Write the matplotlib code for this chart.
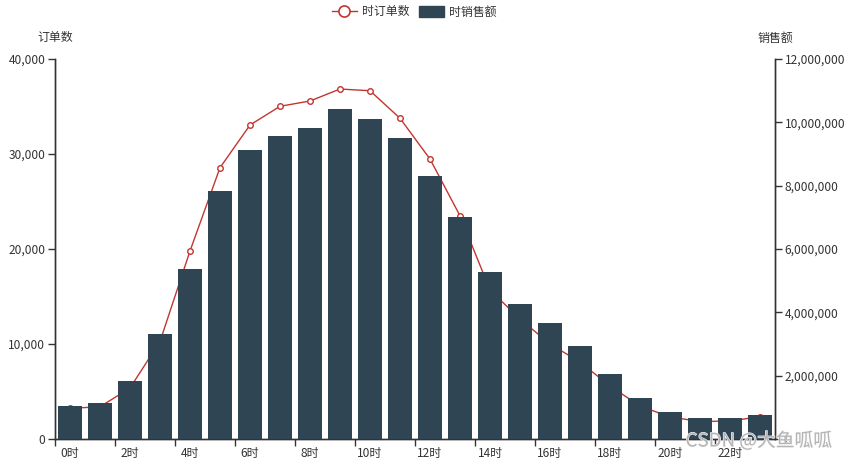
import matplotlib
matplotlib.use('Agg')
import matplotlib.pyplot as plt
import matplotlib.patheffects as pe
from matplotlib.lines import Line2D
from matplotlib.patches import Patch
from matplotlib.ticker import FuncFormatter

plt.rcParams['font.family'] = ['Noto Sans CJK SC', 'DejaVu Sans']

# 每小时数据
hours = [f'{h}时' for h in range(24)]
orders = [3230, 3390, 5370, 10260, 19790, 28560, 33050, 35020, 35580, 36840,
          36660, 33760, 29470, 23500, 15680, 12630, 10000, 8100, 5580, 3470,
          2320, 1840, 1890, 2350]
sales = [1040000, 1130000, 1820000, 3320000, 5370000, 7830000, 9130000, 9570000,
         9810000, 10420000, 10100000, 9500000, 8300000, 7010000, 5280000, 4250000,
         3660000, 2930000, 2040000, 1290000, 850000, 650000, 660000, 750000]

LINE_C = '#c23531'
BAR_C = '#2f4554'
TXT_C = '#333333'
FS = 8.6

W, H = 847, 462
fig = plt.figure(figsize=(W / 100, H / 100), dpi=100)
ax = fig.add_axes([55 / W, (H - 439) / H, 720 / W, 380 / H])
ax2 = ax.twinx()

x = list(range(len(hours)))
ax.plot(x, orders, color=LINE_C, lw=1, marker='o', ms=4, mfc='white',
        mec=LINE_C, mew=1, zorder=2)
ax2.bar(x, sales, width=0.8, color=BAR_C, zorder=3)

ax.set_xlim(-0.5, 23.5)
ax.set_ylim(0, 40000)
ax2.set_ylim(0, 12000000)
ax.set_yticks(range(0, 40001, 10000))
ax2.set_yticks(range(0, 12000001, 2000000))
fmt = FuncFormatter(lambda v, p: f'{int(v):,}')
ax.yaxis.set_major_formatter(fmt)
ax2.yaxis.set_major_formatter(fmt)

# x轴：刻度线在类目边界，标签在类目中心
ax.set_xticks(x[::2])
ax.set_xticklabels(hours[::2])
ax.set_xticks([i - 0.5 for i in x[::2]], minor=True)
ax.tick_params(axis='x', which='major', length=0, pad=6, labelsize=FS, colors=TXT_C)
ax.tick_params(axis='x', which='minor', length=5, width=1, color=TXT_C)
ax.tick_params(axis='y', length=5, width=1, pad=2, labelsize=FS, colors=TXT_C)
ax2.tick_params(axis='y', length=5, width=1, pad=2, labelsize=FS, colors=TXT_C)

for a in (ax, ax2):
    a.spines['top'].set_visible(False)
    for s in ('left', 'right', 'bottom'):
        a.spines[s].set_color(TXT_C)
        a.spines[s].set_linewidth(1)

ax.text(0, 1 + 21 / 380, '订单数', transform=ax.transAxes, ha='center',
        va='center', fontsize=FS, color=TXT_C)
ax2.text(1, 1 + 21 / 380, '销售额', transform=ax2.transAxes, ha='center',
         va='center', fontsize=FS, color=TXT_C)

handles = [Line2D([0], [0], color=LINE_C, lw=1, marker='o', ms=8, mfc='white',
                  mec=LINE_C, mew=1.2),
           Patch(facecolor=BAR_C, edgecolor=BAR_C)]
fig.legend(handles, ['时订单数', '时销售额'], loc='center', ncol=2,
           bbox_to_anchor=(414 / W, 1 - 12 / H), frameon=False, fontsize=FS,
           handlelength=2.1, handleheight=1.1, handletextpad=0.4,
           columnspacing=0.8, labelcolor=TXT_C)

# 水印
fig.text(832 / W, 1 - 441 / H, 'CSDN @大鱼呱呱', ha='right', va='center',
         fontsize=13.5, color='#b4b4b4', fontweight='light',
         path_effects=[pe.withStroke(linewidth=0.8, foreground='#f4f4f4')])

fig.savefig('out.png', dpi=100)
